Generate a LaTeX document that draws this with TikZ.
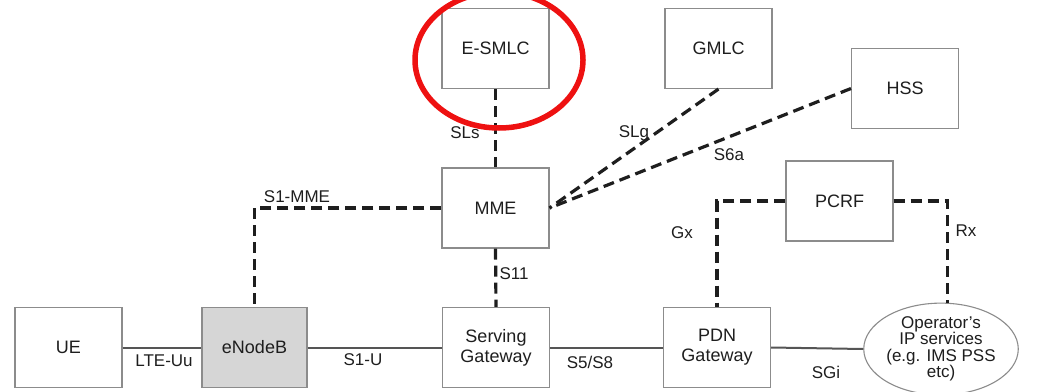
\documentclass[tikz,border=0pt]{standalone}
\usepackage{fontspec}
\setmainfont{Liberation Sans}
\usetikzlibrary{shapes.geometric}
\definecolor{boxline}{HTML}{8C8C8C}
\definecolor{enbfill}{HTML}{D6D6D6}
\definecolor{hilite}{HTML}{EE1111}
\definecolor{solidline}{HTML}{555555}
\definecolor{ink}{HTML}{1E1E1E}
\tikzset{
  entity/.style={draw=boxline, line width=1.1pt, fill=white, rectangle,
    minimum width=107pt, minimum height=80pt, inner sep=0pt, align=center,
    text=ink, font=\fontsize{18}{20}\selectfont},
  cloud/.style={draw=boxline, line width=1.1pt, fill=white, ellipse,
    minimum width=134pt, minimum height=82pt, inner sep=0pt, align=center,
    text=ink, font=\fontsize{17}{16.5}\selectfont},
  iface/.style={inner sep=0pt, text=ink, font=\fontsize{17}{19}\selectfont},
  ctrl/.style={line width=3.2pt, draw=ink, dash pattern=on 11pt off 6pt},
  user/.style={line width=2pt, draw=solidline},
  hiliteline/.style={draw=hilite, line width=5.5pt}
}
\begin{document}
\begin{tikzpicture}[x=1pt,y=-1pt]
\useasboundingbox (0,0) rectangle (1043,391);
% nodes
\node[entity] (ue) at (68.5,347.5) {UE};
\node[entity, minimum width=105pt, fill=enbfill] (enb) at (254.5,347.5) {eNodeB};
\node[entity] (sgw) at (496,347.5) {Serving\\Gateway};
\node[entity] (pgw) at (717,347.5) {PDN\\Gateway};
\node[cloud] (ops) at (941,349) {Operator's\\IP services\\(e.g. IMS PSS\\etc)};
\node[entity] (mme) at (495.5,208) {MME};
\node[entity] (esmlc) at (495.5,48.5) {E-SMLC};
\node[entity] (gmlc) at (718.5,48.5) {GMLC};
\node[entity] (hss) at (905,88.5) {HSS};
\node[entity] (pcrf) at (839.5,201) {PCRF};
% user plane
\draw[user] (ue.east) -- (enb.west);
\draw[user] (enb.east) -- (sgw.west);
\draw[user] (sgw.east) -- (pgw.west);
\draw[user] (pgw.east) -- (ops.west);
% control plane
\draw[ctrl] (esmlc.south) -- (mme.north);
\draw[ctrl] (gmlc.south) -- (mme.east);
\draw[ctrl] (hss.west) -- (mme.east);
\draw[ctrl] (mme.west) -| (enb.north);
\draw[ctrl] (mme.south) -- (sgw.north);
\draw[ctrl] (pcrf.west) -| (pgw.north);
\draw[ctrl] (pcrf.east) -| (ops.82);
% interface labels
\node[iface] (lteuu) at (164,361) {LTE-Uu};
\node[iface] (s1u) at (363,360) {S1-U};
\node[iface] (s5s8) at (590,362) {S5/S8};
\node[iface] (sgi) at (826,372) {SGi};
\node[iface] (s1mme) at (297,197) {S1-MME};
\node[iface] (s11) at (514,274) {S11};
\node[iface] (sls) at (465,133) {SLs};
\node[iface] (slg) at (634,133) {SLg};
\node[iface] (s6a) at (729,155) {S6a};
\node[iface] (gx) at (682,233) {Gx};
\node[iface] (rx) at (966,231) {Rx};
% highlight
\node[hiliteline, ellipse, minimum width=168pt, minimum height=136pt, inner sep=0pt] (hl) at (499,60) {};
\end{tikzpicture}
\end{document}
